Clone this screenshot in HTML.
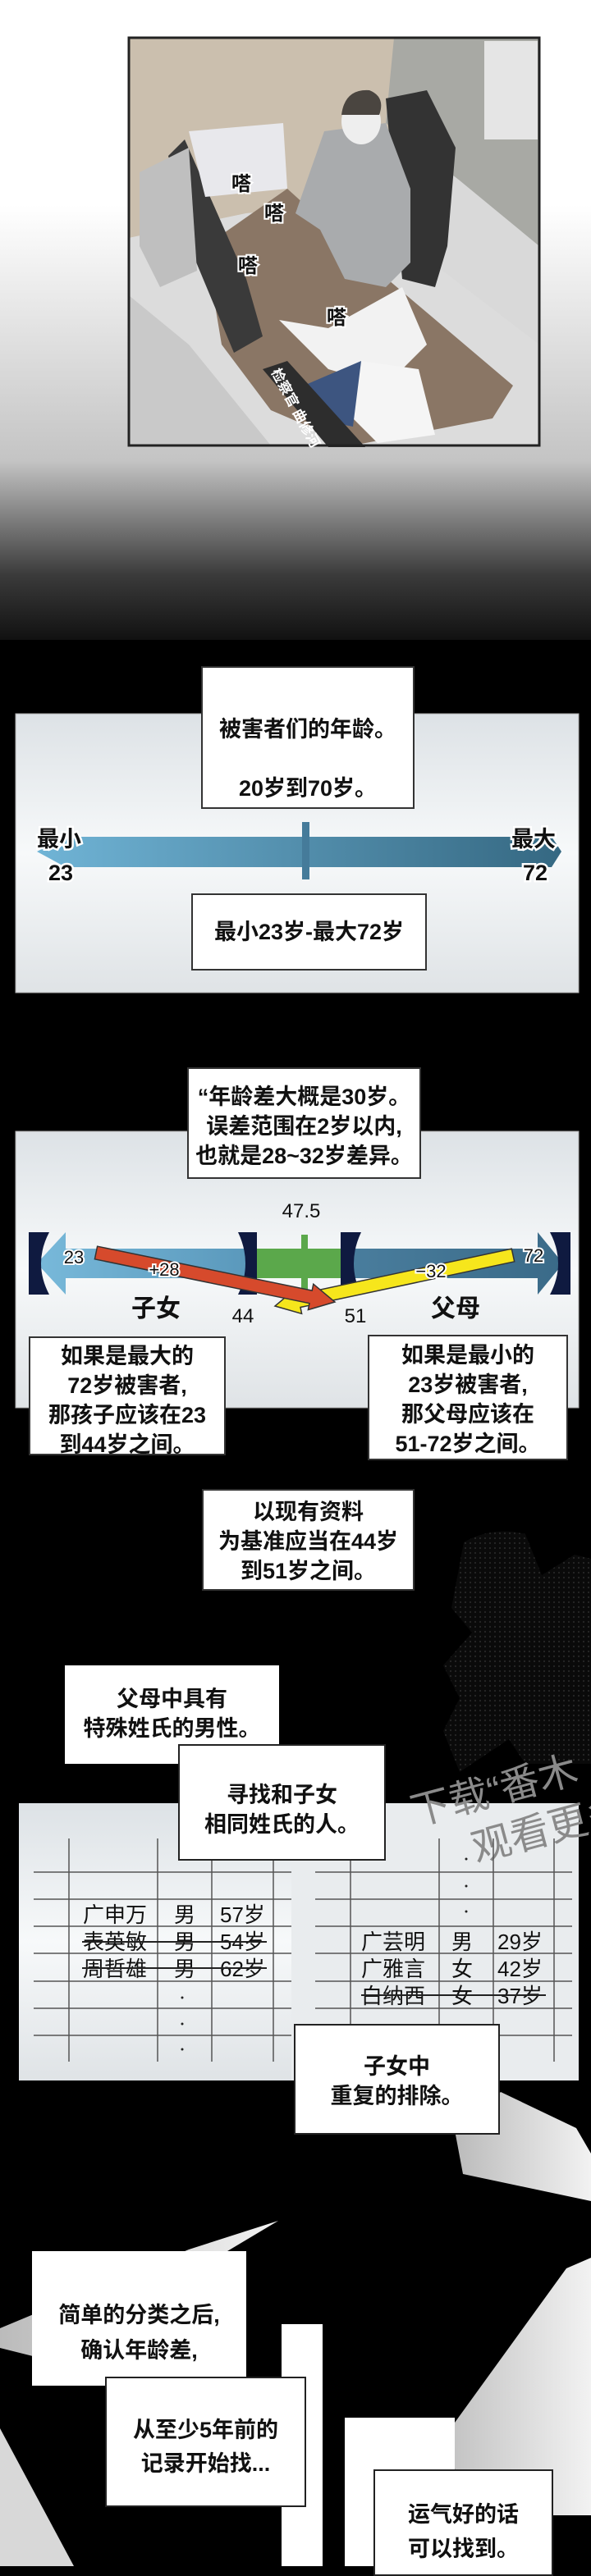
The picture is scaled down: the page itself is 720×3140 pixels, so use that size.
<!DOCTYPE html>
<html><head><meta charset="utf-8">
<style>
*{margin:0;padding:0;box-sizing:border-box}
body{width:720px;height:3128px;position:relative;overflow:hidden;background:#000;font-family:"Liberation Sans","Noto Sans CJK SC",sans-serif;color:#111}
.bx{position:absolute;background:#fff;border:2px solid #333;text-align:center;font-size:27px;line-height:36px;white-space:nowrap;font-weight:bold}
svg{position:absolute;left:0;top:0}
</style></head><body>
<svg width="720" height="3128" viewBox="0 0 720 3128" font-family="Liberation Sans, Noto Sans CJK SC, sans-serif">
<defs>
<linearGradient id="bg" x1="0" y1="0" x2="0" y2="1">
<stop offset="0" stop-color="#fff"/><stop offset="0.32" stop-color="#fff"/><stop offset="0.72" stop-color="#c4c4c4"/><stop offset="0.9" stop-color="#3a3a3a"/><stop offset="1" stop-color="#111"/></linearGradient>
<linearGradient id="pan" x1="0" y1="0" x2="0" y2="1"><stop offset="0" stop-color="#dde2e6"/><stop offset="0.5" stop-color="#f7f9fa"/><stop offset="1" stop-color="#dfe3e6"/></linearGradient>
<linearGradient id="blue" x1="0" y1="0" x2="1" y2="0"><stop offset="0" stop-color="#70b4d6"/><stop offset="1" stop-color="#356882"/></linearGradient>
<linearGradient id="lb" x1="0" y1="0" x2="1" y2="0"><stop offset="0" stop-color="#78b9da"/><stop offset="1" stop-color="#5a98bb"/></linearGradient>
<linearGradient id="db" x1="0" y1="0" x2="1" y2="0"><stop offset="0" stop-color="#4a7e9e"/><stop offset="1" stop-color="#3a6a88"/></linearGradient>
<linearGradient id="gr" x1="0" y1="0" x2="1" y2="0"><stop offset="0" stop-color="#bbb"/><stop offset="1" stop-color="#f2f2f2"/></linearGradient>
<pattern id="dots" width="6" height="6" patternUnits="userSpaceOnUse"><rect width="6" height="6" fill="#0a0a0a"/><circle cx="3" cy="3" r="1.1" fill="#262626"/></pattern>
</defs>
<rect x="0" y="0" width="720" height="780" fill="url(#bg)"/>
<g>
<rect x="157" y="46" width="500" height="497" fill="#d9d9d9"/>
<polygon points="157,46 500,46 480,150 420,250 300,260 157,290" fill="#cbbfae"/>
<polygon points="480,46 657,46 657,300 560,220 470,150" fill="#a8a9a4"/>
<rect x="590" y="50" width="65" height="120" fill="#e5e5e5"/>
<polygon points="157,290 300,260 420,250 500,300 657,420 657,543 157,543" fill="#dcdcdc"/>
<polygon points="157,360 230,420 330,543 157,543" fill="#c9c9c9"/>
<polygon points="250,300 350,230 460,330 625,470 600,510 430,543 330,500 270,420" fill="#8a7665"/>
<polygon points="470,120 520,110 555,180 545,300 530,350 490,340" fill="#333"/>
<polygon points="395,160 470,150 500,230 500,320 470,350 420,340 390,280 360,260" fill="#a9abad"/>
<ellipse cx="440" cy="148" rx="24" ry="28" fill="#eee"/>
<path d="M416,140 Q420,108 450,110 Q470,118 462,140 Z" fill="#4a4540"/>
<polygon points="205,190 225,170 300,340 320,410 285,430 235,310" fill="#3a3a3a"/>
<polygon points="230,160 345,150 350,230 250,240" fill="#e8e8ec"/>
<polygon points="170,210 230,180 240,330 195,350 170,300" fill="#bfbfbf"/>
<polygon points="340,390 400,400 490,350 520,420 470,470 400,450" fill="#f2f2f2"/>
<polygon points="440,440 510,450 530,530 460,540 420,500" fill="#f5f5f5"/>
<polygon points="370,470 440,440 430,520 380,510" fill="#3d5580"/>
<polygon points="320,450 350,440 445,545 400,545" fill="#2d2d2d"/>
<rect x="157" y="46" width="500" height="497" fill="none" stroke="#222" stroke-width="3"/>
<g font-size="24" font-weight="bold" fill="#111" stroke="#fff" stroke-width="4" paint-order="stroke">
<text x="282" y="232">嗒</text><text x="322" y="268">嗒</text><text x="290" y="332">嗒</text><text x="398" y="395">嗒</text></g>
<text x="0" y="0" font-size="17" fill="#fff" font-weight="bold" transform="translate(330,453) rotate(62)">检察官 曲修河</text>
</g>
<rect x="19" y="870" width="686" height="340" fill="url(#pan)" stroke="#aaa"/>
<polygon points="80,1020 672,1020 684,1038 672,1057 80,1057 45,1038" fill="url(#blue)"/>
<rect x="368" y="1002" width="9" height="70" fill="#457b9a"/>
<g font-size="27" font-weight="bold" fill="#111" stroke="#fff" stroke-width="5" paint-order="stroke" text-anchor="middle">
<text x="72" y="1032">最小</text><text x="74" y="1073">23</text>
<text x="650" y="1032">最大</text><text x="652" y="1073">72</text></g>
<rect x="19" y="1379" width="686" height="337" fill="url(#pan)" stroke="#aaa"/>
<polygon points="80,1522 305,1522 305,1558 80,1558 80,1578 45,1540 80,1502" fill="url(#lb)"/>
<rect x="313" y="1522" width="102" height="36" fill="#5ba84b"/>
<rect x="367" y="1505" width="8" height="70" fill="#5ba84b"/>
<polygon points="415,1522 655,1522 655,1502 686,1540 655,1578 655,1558 415,1558" fill="url(#db)"/>
<g fill="#0f1a40">
<path d="M35,1502 L60,1502 Q40,1540 60,1578 L35,1578 Z"/>
<path d="M313,1502 L290,1502 Q308,1540 290,1578 L313,1578 Z"/>
<path d="M415,1502 L440,1502 Q422,1540 440,1578 L415,1578 Z"/>
<path d="M695,1502 L670,1502 Q690,1540 670,1578 L695,1578 Z"/></g>
<polygon points="626.7,1537.8 366,1593.5 367.6,1601.3 335,1592 361,1570.1 362.6,1577.9 623.3,1522.2" fill="#f6e61c" stroke="#333" stroke-width="1.5"/>
<polygon points="118.6,1519.2 380.2,1573.1 381.8,1565.2 408,1587 375.4,1596.6 377,1588.7 115.4,1534.8" fill="#d64a2c" stroke="#333" stroke-width="1.5"/>
<g font-size="22" fill="#111" stroke="#fff" stroke-width="4" paint-order="stroke" text-anchor="middle">
<text x="90" y="1540">23</text><text x="650" y="1538">72</text>
<text x="200" y="1555">+28</text><text x="525" y="1557">−32</text></g>
<g font-size="24" fill="#111" text-anchor="middle">
<text x="367" y="1484">47.5</text><text x="296" y="1612">44</text><text x="433" y="1612">51</text></g>
<g font-size="30" font-weight="bold" fill="#111" text-anchor="middle"><text x="190" y="1605">子女</text><text x="555" y="1605">父母</text></g>
<path d="M565,1880 Q600,1860 640,1870 L660,1920 L700,1895 L720,1900 L720,2150 L640,2150 L620,2120 L560,2160 L540,2110 L560,2070 L540,2030 L575,1990 L550,1960 Z" fill="url(#dots)"/>
<rect x="23" y="2198" width="682" height="338" fill="#e9ecee"/>
<rect x="23" y="2198" width="332" height="338" fill="url(#pan)"/>
<g font-size="48" fill="#8a8a8a" transform="rotate(-15 600 2190)"><text x="500" y="2200">下载“番木</text><text x="560" y="2262">观看更多</text></g>
<g stroke="#555" stroke-width="1.5">
<path d="M41,2282H355M41,2315H355M41,2348H355M41,2381H355M41,2415H355M41,2448H355M41,2481H355"/>
<path d="M84,2241V2513M192,2241V2513M258,2241V2513M333,2241V2513"/>
<path d="M384,2282H697M384,2315H697M384,2348H697M384,2381H697M384,2415H697M384,2448H697M384,2481H697"/>
<path d="M427,2241V2513M535,2241V2513M601,2241V2513M675,2241V2513"/>
</g>
<g font-size="26" fill="#111">
<text x="101" y="2343">广申万</text><text x="212" y="2343">男</text><text x="268" y="2343">57岁</text>
<text x="101" y="2376">表英敏</text><text x="212" y="2376">男</text><text x="268" y="2376">54岁</text>
<text x="101" y="2409">周哲雄</text><text x="212" y="2409">男</text><text x="268" y="2409">62岁</text>
<text x="440" y="2376">广芸明</text><text x="550" y="2376">男</text><text x="606" y="2376">29岁</text>
<text x="440" y="2409">广雅言</text><text x="550" y="2409">女</text><text x="606" y="2409">42岁</text>
<text x="440" y="2442">白纳西</text><text x="550" y="2442">女</text><text x="606" y="2442">37岁</text></g>
<g stroke="#222" stroke-width="2"><path d="M100,2367H325M100,2399H325M440,2432H665"/></g>
<g fill="#222"><circle cx="222" cy="2435" r="1.5"/><circle cx="222" cy="2467" r="1.5"/><circle cx="222" cy="2498" r="1.5"/>
<circle cx="568" cy="2266" r="1.5"/><circle cx="568" cy="2299" r="1.5"/><circle cx="568" cy="2330" r="1.5"/></g>
<rect x="610" y="2536" width="110" height="60" fill="#000"/>
<polygon points="610,2550 702,2594 720,2625 720,2683 564,2650 555,2602" fill="url(#gr)"/>
<polygon points="339,2707 230,2742 0,2838 0,2862 40,2872 200,2790" fill="url(#gr)"/>
<polygon points="690,2765 720,2752 720,3066 674,3066 674,3010 555,3010 520,3000" fill="url(#gr)"/>
<polygon points="0,2960 90,3128 0,3128" fill="#d8d8d8"/>
<rect x="343" y="2833" width="50" height="295" fill="#fff"/>
<rect x="420" y="2947" width="134" height="181" fill="#fff"/>
</svg>

<div class="bx" style="left:245px;top:812px;width:260px;height:174px;padding-top:39px;line-height:72px">被害者们的年龄。<br>20岁到70岁。</div>
<div class="bx" style="left:233px;top:1089px;width:287px;height:94px;padding-top:27px">最小23岁-最大72岁</div>
<div class="bx" style="left:228px;top:1301px;width:285px;height:136px;padding-top:16px">“年龄差大概是30岁。<br>误差范围在2岁以内,<br>也就是28~32岁差异。</div>
<div class="bx" style="left:35px;top:1629px;width:240px;height:145px;padding-top:4px">如果是最大的<br>72岁被害者,<br>那孩子应该在23<br>到44岁之间。</div>
<div class="bx" style="left:448px;top:1627px;width:244px;height:153px;padding-top:5px">如果是最小的<br>23岁被害者,<br>那父母应该在<br>51-72岁之间。</div>
<div class="bx" style="left:246px;top:1815px;width:259px;height:124px;padding-top:8px">以现有资料<br>为基准应当在44岁<br>到51岁之间。</div>
<div class="bx" style="left:79px;top:2030px;width:261px;height:120px;padding-top:23px;border:none">父母中具有<br>特殊姓氏的男性。</div>
<div class="bx" style="left:217px;top:2126px;width:253px;height:142px;padding-top:42px;border-color:#222">寻找和子女<br>相同姓氏的人。</div>
<div class="bx" style="left:358px;top:2467px;width:251px;height:135px;padding-top:32px;border-color:#222">子女中<br>重复的排除。</div>
<div class="bx" style="left:39px;top:2744px;width:261px;height:164px;padding-top:57px;border:none;line-height:43px">简单的分类之后,<br>确认年龄差,</div>
<div class="bx" style="left:128px;top:2897px;width:245px;height:159px;padding-top:43px;border-color:#222;line-height:41px">从至少5年前的<br>记录开始找...</div>
<div class="bx" style="left:455px;top:3010px;width:219px;height:130px;padding-top:32px;border-color:#222;line-height:42px">运气好的话<br>可以找到。</div>
</body></html>
